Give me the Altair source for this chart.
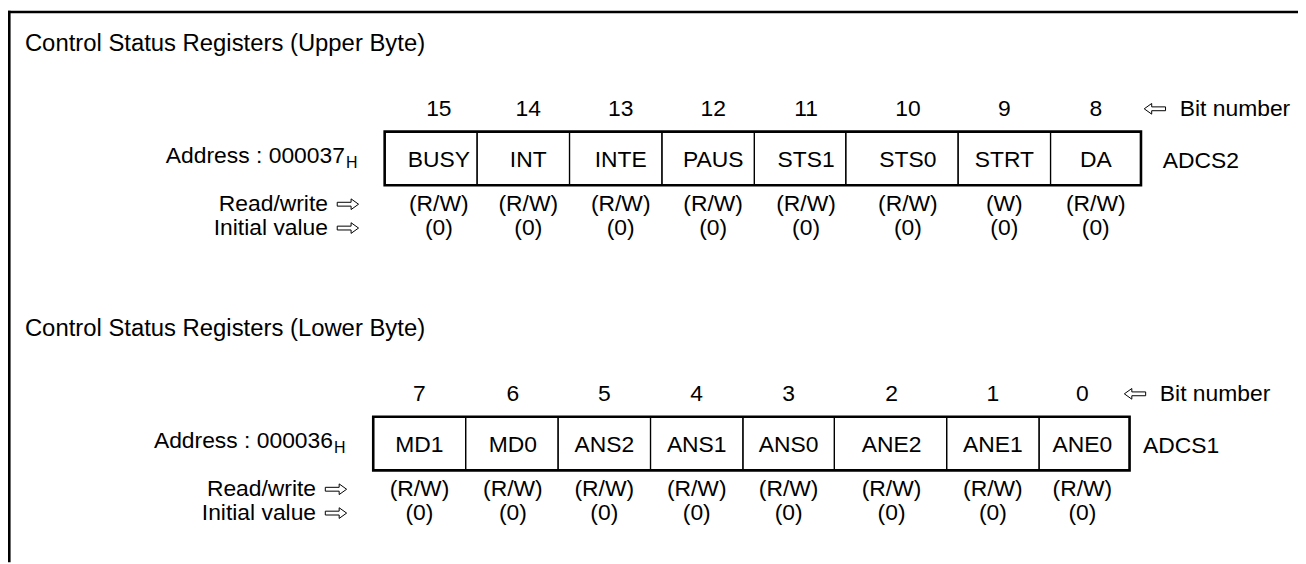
import altair as alt
import pandas as pd

# ---------------- data ----------------
titles = ["Control Status Registers (Upper Byte)", "Control Status Registers (Lower Byte)"]
addresses = ["Address : 000037", "Address : 000036"]
address_suffix = ["H", "H"]
register_names = ["ADCS2", "ADCS1"]
bit_caption = "Bit number"
rw_caption = "Read/write"
init_caption = "Initial value"

upper_bits = [15, 14, 13, 12, 11, 10, 9, 8]
upper_names = ["BUSY", "INT", "INTE", "PAUS", "STS1", "STS0", "STRT", "DA"]
upper_rw = ["(R/W)", "(R/W)", "(R/W)", "(R/W)", "(R/W)", "(R/W)", "(W)", "(R/W)"]
upper_init = ["(0)", "(0)", "(0)", "(0)", "(0)", "(0)", "(0)", "(0)"]

lower_bits = [7, 6, 5, 4, 3, 2, 1, 0]
lower_names = ["MD1", "MD0", "ANS2", "ANS1", "ANS0", "ANE2", "ANE1", "ANE0"]
lower_rw = ["(R/W)", "(R/W)", "(R/W)", "(R/W)", "(R/W)", "(R/W)", "(R/W)", "(R/W)"]
lower_init = ["(0)", "(0)", "(0)", "(0)", "(0)", "(0)", "(0)", "(0)"]

registers = [
    (upper_bits, upper_names, upper_rw, upper_init),
    (lower_bits, lower_names, lower_rw, lower_init),
]

# ---------------- layout ----------------
W, H = 1298, 556
FONT = "Liberation Sans"
FS = 23
CELL_W = [93, 93, 93, 93, 92, 113, 93, 91]
BOX_H = 54
SECTIONS = [
    dict(left=387.0, top=130.7, arrow_c=1162, cap_l=1187, reg_x=1170, addr_r=347, lbl_r=330,
         shift=[8, 5, 5, 5, 6, 6, 0, 0]),
    dict(left=375.5, top=417.5, arrow_c=1142, cap_l=1167, reg_x=1150, addr_r=335, lbl_r=318,
         shift=[0, 1, 0, 0, 0, 1, 0, -2]),
]

cells, boxes = [], []
t_left, t_title, t_center, t_right, t_sub = [], [], [], [], []
arrows_l, arrows_r = [], []

for s, (bits, names, rws, inits) in enumerate(registers):
    L = SECTIONS[s]
    top = L["top"]
    bot = top + BOX_H
    x = L["left"]
    for i in range(len(bits)):
        x1 = x + CELL_W[i]
        cells.append(dict(x0=x, x1=x1, y0=top, y1=bot))
        cx = (x + x1) / 2 + L["shift"][i]
        t_center.append(dict(x=cx, y=top - 23, text=str(bits[i])))
        t_center.append(dict(x=cx, y=top + 29, text=names[i]))
        t_center.append(dict(x=cx, y=top + 73, text=rws[i]))
        t_center.append(dict(x=cx, y=top + 97, text=inits[i]))
        x = x1
    boxes.append(dict(x0=L["left"], x1=x, y0=top, y1=bot))
    t_title.append(dict(x=25, y=top - 88, text=titles[s]))
    t_left.append(dict(x=L["cap_l"], y=top - 23, text=bit_caption))
    t_left.append(dict(x=L["reg_x"], y=top + 30, text=register_names[s]))
    t_right.append(dict(x=L["addr_r"], y=top + 25, text=addresses[s]))
    t_sub.append(dict(x=L["addr_r"] + 1, y=top + 32, text=address_suffix[s]))
    t_right.append(dict(x=L["lbl_r"], y=top + 73, text=rw_caption))
    t_right.append(dict(x=L["lbl_r"], y=top + 97, text=init_caption))
    arrows_l.append(dict(x=L["arrow_c"], y=top - 23))
    arrows_r.append(dict(x=L["lbl_r"] + 20, y=top + 73))
    arrows_r.append(dict(x=L["lbl_r"] + 20, y=top + 97))

xs = alt.Scale(domain=[8, 8 + W], nice=False, zero=False)
ys = alt.Scale(domain=[8, 8 + H], nice=False, zero=False, reverse=True)


def X(f="x"):
    return alt.X(f"{f}:Q", scale=xs, axis=None)


def Y(f="y"):
    return alt.Y(f"{f}:Q", scale=ys, axis=None)


cell_layer = alt.Chart(pd.DataFrame(cells)).mark_rect(
    fillOpacity=0, stroke="black", strokeWidth=1.2
).encode(x=X("x0"), x2="x1", y=Y("y0"), y2="y1")

box_layer = alt.Chart(pd.DataFrame(boxes)).mark_rect(
    fillOpacity=0, stroke="black", strokeWidth=2.6
).encode(x=X("x0"), x2="x1", y=Y("y0"), y2="y1")

one = pd.DataFrame({"k": [0]})
frame_top = alt.Chart(one).mark_rule(color="black", strokeWidth=2.6).encode(
    x=alt.value(0), x2=alt.value(W), y=alt.value(2.3)
)
frame_left = alt.Chart(one).mark_rule(color="black", strokeWidth=2.6).encode(
    x=alt.value(1.3), y=alt.value(1), y2=alt.value(H)
)


def text_layer(rows, align, size=FS, baseline="middle"):
    return alt.Chart(pd.DataFrame(rows)).mark_text(
        align=align, baseline=baseline, font=FONT, fontSize=size, color="black"
    ).encode(x=X(), y=Y(), text="text:N")


LEFT_ARROW = "M -1 0 L -0.3 -0.5 L -0.3 -0.18 L 1 -0.18 L 1 0.18 L -0.3 0.18 L -0.3 0.5 Z"
RIGHT_ARROW = "M 1 0 L 0.3 -0.5 L 0.3 -0.18 L -1 -0.18 L -1 0.18 L 0.3 0.18 L 0.3 0.5 Z"

arrow_l_layer = alt.Chart(pd.DataFrame(arrows_l)).mark_point(
    shape=LEFT_ARROW, size=460, filled=True, fill="white", stroke="black", strokeWidth=1, opacity=1
).encode(x=X(), y=Y())
arrow_r_layer = alt.Chart(pd.DataFrame(arrows_r)).mark_point(
    shape=RIGHT_ARROW, size=460, filled=True, fill="white", stroke="black", strokeWidth=1, opacity=1
).encode(x=X(), y=Y())

chart = alt.layer(
    frame_top,
    frame_left,
    cell_layer,
    box_layer,
    text_layer(t_title, "left", size=24),
    text_layer(t_center, "center"),
    text_layer(t_left, "left"),
    text_layer(t_right, "right"),
    text_layer(t_sub, "left", size=16),
    arrow_l_layer,
    arrow_r_layer,
).properties(
    width=W, height=H, padding=0, autosize="none", background="white"
).configure_view(stroke=None)

chart.save("out.html", embed_options={"renderer": "svg", "actions": False})
